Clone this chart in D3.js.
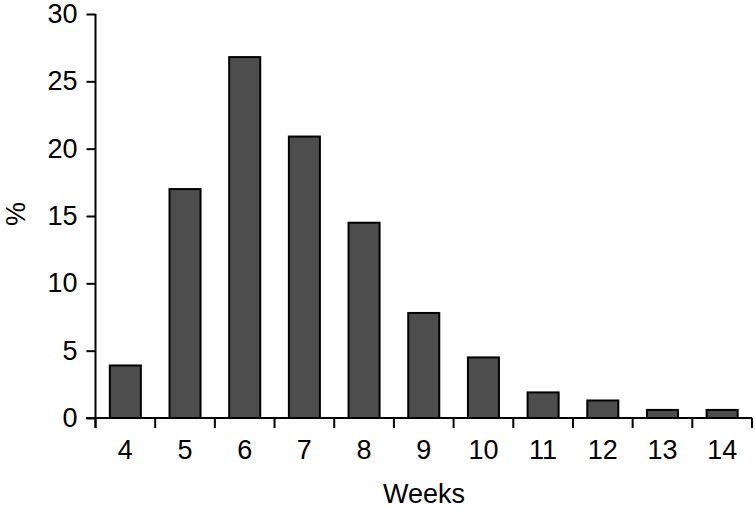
<!DOCTYPE html>
<html><head><meta charset="utf-8">
<script src="https://cdn.jsdelivr.net/npm/d3@7"></script>
<style>body{margin:0;background:#fff}svg{display:block}text{font-family:"Liberation Sans",Arial,sans-serif;fill:#000}</style>
</head><body>
<script>
const weeks = ["4","5","6","7","8","9","10","11","12","13","14"];
const percent = [3.9,17.0,26.8,20.9,14.5,7.8,4.5,1.9,1.3,0.6,0.6];
const yTicks = [0,5,10,15,20,25,30];

const W=755,H=509;
const svg=d3.select("body").append("svg").attr("width",W).attr("height",H);
const x=d3.scaleBand().domain(weeks).range([95.5,752]).paddingInner(0.48).paddingOuter(0.24);
const y=d3.scaleLinear().domain([0,30]).range([418,14]);

svg.selectAll("rect").data(percent).join("rect")
  .attr("x",(d,i)=>x(weeks[i])).attr("width",x.bandwidth())
  .attr("y",d=>y(d)).attr("height",d=>y(0)-y(d))
  .attr("fill","#4d4d4d").attr("stroke","#000").attr("stroke-width",2);

// y axis
const ya=svg.append("g").attr("transform","translate(95.5,0)")
  .call(d3.axisLeft(y).tickValues(yTicks).tickSize(9).tickPadding(9).tickSizeOuter(0));
ya.select(".domain").attr("d","M0,14V428").attr("stroke-width",2);
ya.selectAll(".tick line").attr("stroke-width",2);
ya.selectAll("text").style("font-size","27px");

// x axis with ticks at band boundaries
const bounds=d3.range(weeks.length+1).map(i=>95.5+i*(752-95.5)/weeks.length);
const xa=svg.append("g").attr("transform","translate(0,418)");
xa.append("line").attr("x1",86).attr("x2",752).attr("stroke","#000").attr("stroke-width",2);
xa.selectAll(".bt").data(bounds).join("line").attr("class","bt")
  .attr("x1",d=>d).attr("x2",d=>d).attr("y1",0).attr("y2",10).attr("stroke","#000").attr("stroke-width",2);
xa.selectAll(".xl").data(weeks).join("text").attr("class","xl")
  .attr("x",d=>x(d)+x.bandwidth()/2).attr("y",41).attr("text-anchor","middle")
  .style("font-size","27px").text(d=>d);

svg.append("text").attr("x",424).attr("y",503).attr("text-anchor","middle").style("font-size","27px").text("Weeks");
svg.append("text").attr("transform","translate(25,214) rotate(-90)").attr("text-anchor","middle").style("font-size","27px").text("%");
</script>
</body></html>
